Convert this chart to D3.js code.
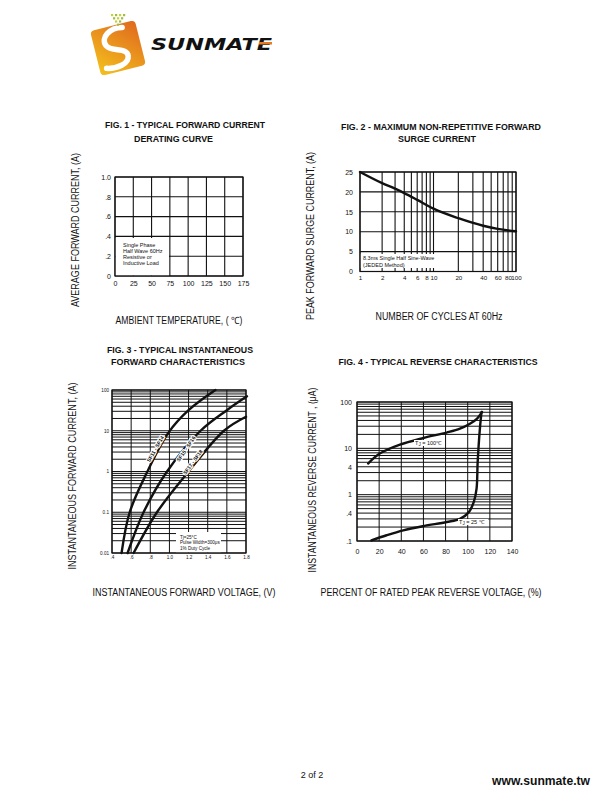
<!DOCTYPE html>
<html>
<head>
<meta charset="utf-8">
<script src="https://cdn.jsdelivr.net/npm/d3@7"></script>
<style>
  body { margin: 0; background: #fff; }
  svg { display: block; }
  text { font-family: "Liberation Sans", Arial, sans-serif; fill: #111; }
</style>
</head>
<body>
<div id="page"></div>
<script>
// FIG. 1 - derating curve (the sheet only shows the grid and the note)
var fig1Temps = [0, 25, 50, 75, 100, 125, 150, 175];
var fig1Amps = [0, 0.2, 0.4, 0.6, 0.8, 1.0];
var fig1AmpLabels = ["0", ".2", ".4", ".6", ".8", "1.0"];
var fig1Note = ["Single Phase", "Half Wave 60Hz", "Resistive or", "Inductive Load"];

// FIG. 2 - surge current vs cycles
var fig2Cycles = [1, 2, 3, 4, 6, 10, 20, 40, 60, 100];
var fig2Surge = [25, 22.2, 20.8, 19.7, 18, 15.8, 13.4, 11.5, 10.7, 10.1];
var fig2XTicks = [1, 2, 4, 6, 8, 10, 20, 40, 60, 80, 100];
var fig2YTicks = [0, 5, 10, 15, 20, 25];
var fig2Note = ["8.3ms Single Half Sine-Wave", "(JEDED Method)"];

// FIG. 3 - forward characteristics, one pair of arrays per curve
var fig3VoltTicks = [0.4, 0.6, 0.8, 1.0, 1.2, 1.4, 1.6, 1.8];
var fig3VoltLabels = [".4", ".6", ".8", "1.0", "1.2", "1.4", "1.6", "1.8"];
var fig3AmpTicks = [0.01, 0.1, 1, 10, 100];
var fig3AmpLabels = ["0.01", "0.1", "1", "10", "100"];
var fig3Parts = ["SF11 - SF14", "SF15 - SF16", "SF17 - SF18"];
var fig3V1 = [0.50, 0.585, 0.77, 0.99, 1.2, 1.48];
var fig3I1 = [0.01, 0.1, 1, 9, 32, 100];
var fig3V2 = [0.563, 0.73, 0.975, 1.325, 1.6, 1.81];
var fig3I2 = [0.01, 0.1, 1, 10, 32, 70];
var fig3V3 = [0.626, 0.87, 1.2, 1.57, 1.8];
var fig3I3 = [0.01, 0.1, 1, 10, 22];
var fig3Note = ["Tj=25\u00b0C", "Pulse Width=300\u03bcs", "1% Duty Cycle"];

// FIG. 4 - reverse characteristics
var fig4PctTicks = [0, 20, 40, 60, 80, 100, 120, 140];
var fig4CurTicks = [0.1, 0.4, 1, 4, 10, 100];
var fig4CurLabels = [".1", ".4", "1", "4", "10", "100"];
var fig4Pct100 = [10, 20.6, 38.8, 60, 81, 93, 102, 108.5, 113];
var fig4Cur100 = [4.7, 7.7, 12, 16.7, 21.9, 26.6, 34, 44, 61];
var fig4Pct25 = [13, 26.7, 41.8, 60, 81, 93, 101, 105.5, 108, 109, 111, 112.5];
var fig4Cur25 = [0.103, 0.133, 0.17, 0.21, 0.257, 0.30, 0.42, 0.70, 1.35, 5.1, 26.6, 61];

var svg = d3.select("#page").append("svg")
  .attr("width", 610).attr("height", 810);

function zip(xs, ys) { return xs.map(function (v, i) { return [v, ys[i]]; }); }

// minor log grid values 1..9 per decade
function logGrid(lo, hi) {
  var out = [];
  for (var e = lo; e < hi; e++)
    for (var k = 1; k < 10; k++) out.push(k * Math.pow(10, e));
  out.push(Math.pow(10, hi));
  return out;
}

function txt(x, y, s, size, opts) {
  opts = opts || {};
  var t = svg.append("text")
    .attr("x", x).attr("y", y)
    .style("font-size", size + "px")
    .style("font-weight", opts.bold ? "bold" : "normal")
    .attr("text-anchor", opts.anchor || "middle")
    .text(s);
  if (opts.len) t.attr("textLength", opts.len).attr("lengthAdjust", "spacingAndGlyphs");
  if (opts.rot) t.attr("transform", "rotate(" + opts.rot + "," + x + "," + y + ")");
  return t;
}

function grid(g, x, y, xs, ys, w) {
  var xr = d3.extent(x.range()), yr = d3.extent(y.range());
  g.selectAll(null).data(xs).enter().append("line")
    .attr("x1", x).attr("x2", x).attr("y1", yr[0]).attr("y2", yr[1])
    .attr("stroke", "#111").attr("stroke-width", w);
  g.selectAll(null).data(ys).enter().append("line")
    .attr("y1", y).attr("y2", y).attr("x1", xr[0]).attr("x2", xr[1])
    .attr("stroke", "#111").attr("stroke-width", w);
}

function frame(g, x, y, w) {
  var xr = d3.extent(x.range()), yr = d3.extent(y.range());
  g.append("rect")
    .attr("x", xr[0]).attr("y", yr[0])
    .attr("width", xr[1] - xr[0]).attr("height", yr[1] - yr[0])
    .attr("fill", "none").attr("stroke", "#111").attr("stroke-width", w);
}

function axes(g, x, y, xt, xl, yt, yl, size, xpad, ypad, xsize) {
  var ax = g.append("g").attr("transform", "translate(0," + d3.max(y.range()) + ")")
    .call(d3.axisBottom(x).tickValues(xt).tickSize(0).tickPadding(xpad)
      .tickFormat(function (d, i) { return xl[i]; }));
  var ay = g.append("g").attr("transform", "translate(" + d3.min(x.range()) + ",0)")
    .call(d3.axisLeft(y).tickValues(yt).tickSize(0).tickPadding(ypad)
      .tickFormat(function (d, i) { return yl[i]; }));
  [ax, ay].forEach(function (a) {
    a.select(".domain").remove();
    a.selectAll("text").style("font-size", size + "px")
      .style("font-family", '"Liberation Sans", Arial, sans-serif').attr("fill", "#111");
  });
  if (xsize) ax.selectAll("text").style("font-size", xsize + "px");
}

function curve(g, x, y, pts, w, shape) {
  var line = d3.line().x(function (d) { return x(d[0]); }).y(function (d) { return y(d[1]); })
    .curve(shape || d3.curveMonotoneX);
  g.append("path").datum(pts).attr("d", line)
    .attr("fill", "none").attr("stroke", "#111").attr("stroke-width", w)
    .attr("stroke-linecap", "round");
}

function noteBox(g, x0, y0, x1, y1, lines, tx, ty, step, size) {
  g.append("rect").attr("x", x0).attr("y", y0).attr("width", x1 - x0).attr("height", y1 - y0)
    .attr("fill", "#fff");
  lines.forEach(function (s, i) {
    g.append("text").attr("x", tx).attr("y", ty + i * step)
      .style("font-size", size + "px").text(s);
  });
}

// ---------- logo ----------
var defs = svg.append("defs");
var grad = defs.append("linearGradient").attr("id", "lg")
  .attr("x1", "0").attr("y1", "1").attr("x2", "1").attr("y2", "0");
grad.append("stop").attr("offset", "0").attr("stop-color", "#f4c21c");
grad.append("stop").attr("offset", "1").attr("stop-color", "#e0681e");
var logo = svg.append("g").attr("transform", "translate(118,48) rotate(-14)");
logo.append("rect").attr("x", -23).attr("y", -23).attr("width", 46).attr("height", 46)
  .attr("rx", 4).attr("fill", "url(#lg)");
logo.append("path")
  .attr("d", "M9,-19 C-3,-22 -15,-14 -11,-5 C-7,3 9,1 8,10 C7,18 -6,20 -16,17")
  .attr("fill", "none").attr("stroke", "#fff").attr("stroke-width", 5.5)
  .attr("stroke-linecap", "round");
for (var r = 0; r < 4; r++)
  for (var c = 0; c <= r; c++)
    svg.append("rect").attr("x", 111 + c * 4 + (3 - r) * 2).attr("y", 14 + (3 - r) * 3.2)
      .attr("width", 2.2).attr("height", 2.2)
      .attr("fill", (r + c) % 2 ? "#c9cf3a" : "#9fbf3a");
txt(151, 50, "SUNMATE", 16, { anchor: "start", bold: true, len: 121 })
  .style("font-style", "italic").style("font-family", '"DejaVu Sans", sans-serif')
  .attr("fill", "#1c1c1c");
svg.append("rect").attr("x", 259).attr("y", 42).attr("width", 13).attr("height", 2.5)
  .attr("fill", "#e77b22");

// ---------- FIG. 1 ----------
var g1 = svg.append("g");
var x1 = d3.scaleLinear([0, 175], [115, 243]);
var y1 = d3.scaleLinear([0, 1], [276, 177]);
grid(g1, x1, y1, fig1Temps, fig1Amps, 1.1);
noteBox(g1, 115.5, 238, 169, 275.5, fig1Note, 123, 246.5, 6.3, 5.5);
frame(g1, x1, y1, 1.2);
axes(g1, x1, y1, fig1Temps, fig1Temps.map(String), fig1Amps, fig1AmpLabels, 7, 5, 4);
txt(185, 128, "FIG. 1 - TYPICAL FORWARD CURRENT", 9, { bold: true, len: 160 });
txt(173.5, 141.5, "DERATING CURVE", 9, { bold: true, len: 79 });
txt(79, 230, "AVERAGE  FORWARD CURRENT, (A)", 10, { rot: -90, len: 154 });
txt(179, 324, "AMBIENT TEMPERATURE, ( \u2103)", 10, { len: 127 });

// ---------- FIG. 2 ----------
var g2 = svg.append("g");
// the printed log axis is slightly stretched in its second decade
var x2 = d3.scaleLog([1, 10, 100], [360, 433.5, 516]);
var y2 = d3.scaleLinear([0, 25], [271.5, 172]);
grid(g2, x2, y2, logGrid(0, 2), fig2YTicks, 1.1);
noteBox(g2, 360.5, 254, 446, 268, fig2Note, 363, 260, 7, 5.5);
frame(g2, x2, y2, 1.2);
curve(g2, x2, y2, zip(fig2Cycles, fig2Surge), 2.4);
axes(g2, x2, y2, fig2XTicks, fig2XTicks.map(String), fig2YTicks, fig2YTicks.map(String), 7, 4, 7, 6.2);
txt(441, 130, "FIG. 2 - MAXIMUM NON-REPETITIVE  FORWARD", 9, { bold: true, len: 200 });
txt(437, 142, "SURGE CURRENT", 9, { bold: true, len: 78 });
txt(314, 236, "PEAK FORWARD SURGE CURRENT, (A)", 10, { rot: -90, len: 168 });
txt(439, 320, "NUMBER OF CYCLES AT 60Hz", 10, { len: 127 });

// ---------- FIG. 3 ----------
var g3 = svg.append("g");
var x3 = d3.scaleLinear([0.4, 1.8], [112, 246]);
var y3 = d3.scaleLog([0.01, 100], [553, 390]);
grid(g3, x3, y3, fig3VoltTicks, logGrid(-2, 2), 1);
noteBox(g3, 176, 532, 221, 552.5, fig3Note, 180, 538.5, 5.5, 4.6);
frame(g3, x3, y3, 1.2);
[[fig3V1, fig3I1], [fig3V2, fig3I2], [fig3V3, fig3I3]].forEach(function (c) {
  curve(g3, x3, y3, zip(c[0], c[1]), 2.4, d3.curveCatmullRom.alpha(0.5));
});
// part number labels written along the curves
[[0.87, 3.4, -60], [1.19, 3.4, -56], [1.26, 1.6, -54]].forEach(function (p, i) {
  var px = x3(p[0]), py = y3(p[1]);
  g3.append("text").attr("x", px).attr("y", py)
    .attr("transform", "rotate(" + p[2] + "," + px + "," + py + ")")
    .attr("text-anchor", "middle").style("font-size", "5.2px").style("font-weight", "bold")
    .attr("stroke", "#fff").attr("stroke-width", 2.2).attr("paint-order", "stroke")
    .text(fig3Parts[i]);
});
axes(g3, x3, y3, fig3VoltTicks, fig3VoltLabels, fig3AmpTicks, fig3AmpLabels, 4.6, 3, 3);
txt(180, 353, "FIG. 3 - TYPICAL INSTANTANEOUS", 9, { bold: true, len: 146 });
txt(178, 364.5, "FORWARD CHARACTERISTICS", 9, { bold: true, len: 134 });
txt(76, 476, "INSTANTANEOUS FORWARD CURRENT, (A)", 10, { rot: -90, len: 187 });
txt(184, 596, "INSTANTANEOUS FORWARD VOLTAGE, (V)", 10, { len: 183 });

// ---------- FIG. 4 ----------
var g4 = svg.append("g");
var x4 = d3.scaleLinear([0, 140], [357, 512]);
var y4 = d3.scaleLog([0.1, 100], [541, 402]);
grid(g4, x4, y4, fig4PctTicks, logGrid(-1, 2), 1);
frame(g4, x4, y4, 1.2);
curve(g4, x4, y4, zip(fig4Pct100, fig4Cur100), 2.4, d3.curveCatmullRom.alpha(0.5));
curve(g4, x4, y4, zip(fig4Pct25, fig4Cur25), 2.4, d3.curveCatmullRom.alpha(0.5));
[[415, 444.5, "100\u2103"], [459, 523.5, "25 \u2103"]].forEach(function (l) {
  g4.append("rect").attr("x", l[0] - 1).attr("y", l[1] - 4.5).attr("width", 30).attr("height", 6)
    .attr("fill", "#fff");
  var t = g4.append("text").attr("x", l[0]).attr("y", l[1]).style("font-size", "5.5px");
  t.append("tspan").text("T");
  t.append("tspan").attr("dy", 1).style("font-size", "4.5px").text("J");
  t.append("tspan").attr("dy", -1).text(" = " + l[2]);
});
axes(g4, x4, y4, fig4PctTicks, fig4PctTicks.map(String), fig4CurTicks, fig4CurLabels, 7, 8, 5);
txt(438, 365, "FIG. 4 - TYPICAL REVERSE CHARACTERISTICS", 9, { bold: true, len: 199 });
txt(316, 480, "INSTANTANEOUS REVERSE CURRENT , (\u03bcA)", 10, { rot: -90, len: 185 });
txt(431, 596, "PERCENT OF RATED PEAK REVERSE VOLTAGE, (%)", 10, { len: 221 });

// ---------- footer ----------
txt(312, 778, "2 of 2", 9);
txt(541, 785, "www.sunmate.tw", 13, { bold: true, len: 98 });
</script>
</body>
</html>
